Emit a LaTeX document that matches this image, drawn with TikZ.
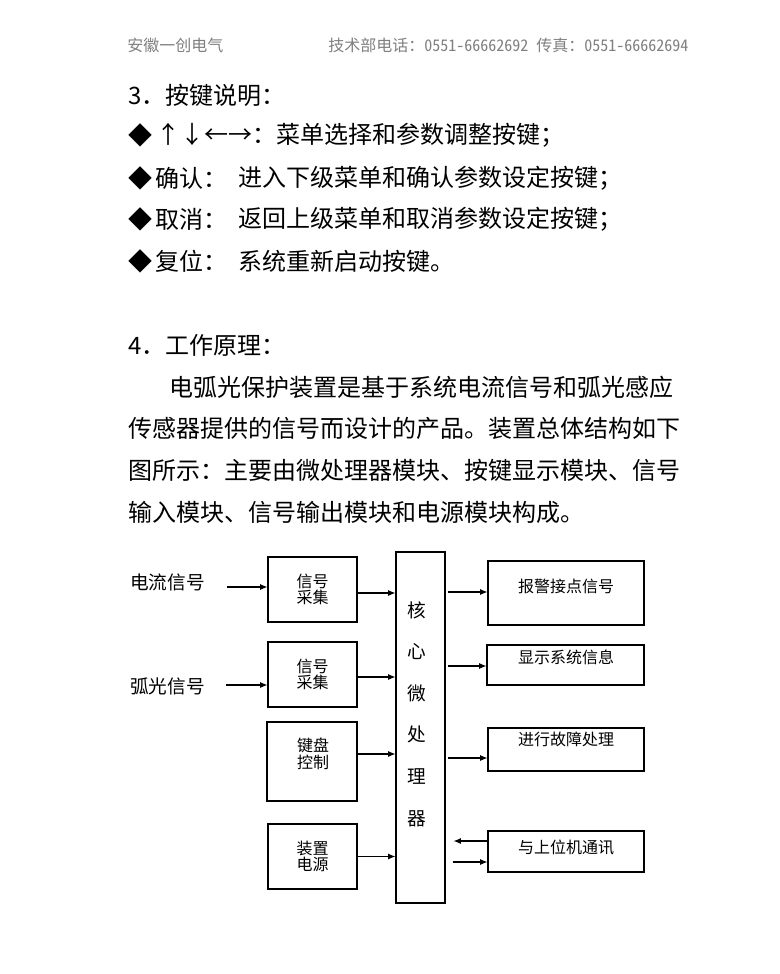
\documentclass[tikz,border=0pt]{standalone}
\usepackage{fontspec}
\setmainfont{Noto Sans CJK SC}
\newfontfamily\hdrfont[RawFeature=+hwid]{Noto Sans CJK SC}
\usepackage{tikz}
\usetikzlibrary{arrows.meta, calc, positioning}
\newcommand{\pxu}{0.75pt}
\tikzset{
>={Latex[length=5.5pt,width=4.5pt]}, % filled arrow heads
hdr/.style={anchor=west, inner sep=0pt, text=black!50, font=\hdrfont\fontsize{12}{12}\selectfont},
txt/.style={anchor=west, inner sep=0pt, font=\fontsize{18}{18}\selectfont},
side/.style={anchor=west, inner sep=0pt, font=\fontsize{14}{14}\selectfont},
blk/.style={draw, line width=0.8pt, inner sep=0pt, align=center, font=\fontsize{12}{12.5}\selectfont},
lbl/.style={inner sep=0pt, align=center, font=\fontsize{12}{12.5}\selectfont},
conn/.style={->, line width=0.8pt},
}
\begin{document}
\begin{tikzpicture}[x=0.75pt,y=-0.75pt]
  \fill[white] (0,0) rectangle (780,974);
  \useasboundingbox (0,0) rectangle (780,974);

  % page header
  \node[hdr] (hname) at (127,45) {安徽一创电气};
  \node[hdr] (htel) at (328,45) {技术部电话：0551-66662692 传真：0551-66662694};

  % section 3
  \node[txt] (h3) at (128,95) {3．按键说明：};
  \foreach \y/\nm in {135/a,178/b,219/c,261/d}
    \node[txt] (dia\nm) at (128,\y) {◆};
  \node[txt] (karr) at (156,135) {↑↓←→：菜单选择和参数调整按键；};
  \node[txt] (kok) at (155,178) {确认：};
  \node[txt] (koktx) at (238,178) {进入下级菜单和确认参数设定按键；};
  \node[txt] (kesc) at (155,219) {取消：};
  \node[txt] (kesctx) at (238,219) {返回上级菜单和取消参数设定按键；};
  \node[txt] (krst) at (155,261) {复位：};
  \node[txt] (krsttx) at (238,261) {系统重新启动按键。};

  % section 4
  \node[txt] (h4) at (128,345) {4．工作原理：};
  \node[txt] (p1) at (169,387) {电弧光保护装置是基于系统电流信号和弧光感应};
  \node[txt] (p2) at (128,428) {传感器提供的信号而设计的产品。装置总体结构如下};
  \node[txt] (p3) at (128,470) {图所示：主要由微处理器模块、按键显示模块、信号};
  \node[txt] (p4) at (128,512) {输入模块、信号输出模块和电源模块构成。};

  % block diagram
  \node[side] (cur) at (130,582) {电流信号};
  \node[side] (arc) at (130,686) {弧光信号};

  \node[blk, minimum width=89*\pxu, minimum height=65*\pxu] (sa) at (312.5,589.5) {信号\\采集};
  \node[blk, minimum width=89*\pxu, minimum height=65*\pxu] (sb) at (312.5,674.5) {信号\\采集};
  \node[blk, minimum width=90*\pxu, minimum height=79*\pxu] (kbd) at (312,761.5) {};
  \node[lbl] (kbdtx) at (313,754) {键盘\\控制};
  \node[blk, minimum width=89*\pxu, minimum height=65*\pxu] (pwr) at (312.5,856.5) {装置\\电源};

  \node[blk, minimum width=49*\pxu, minimum height=351*\pxu] (core) at (420.5,727.5) {};
  \node[lbl, font=\fontsize{14}{31.2}\selectfont] (coretx) at (417,714) {核\\心\\微\\处\\理\\器};

  \node[blk, minimum width=156*\pxu, minimum height=64*\pxu] (alm) at (566,593) {};
  \node[lbl] (almtx) at (566,586) {报警接点信号};
  \node[blk, minimum width=157*\pxu, minimum height=40*\pxu] (dsp) at (565.5,665) {};
  \node[lbl] (dsptx) at (566,657) {显示系统信息};
  \node[blk, minimum width=156*\pxu, minimum height=43*\pxu] (flt) at (566,749.5) {};
  \node[lbl] (flttx) at (566,739) {进行故障处理};
  \node[blk, minimum width=156*\pxu, minimum height=41*\pxu] (com) at (566,851.5) {};
  \node[lbl] (comtx) at (566,847) {与上位机通讯};

  % inputs
  \coordinate (ina) at ($(sa.west)+(-40,-2.5)$);
  \coordinate (inb) at ($(sb.west)+(-41,10.5)$);
  \draw[conn] (ina) -- (ina -| sa.west);
  \draw[conn] (inb) -- (inb -| sb.west);

  % into the core
  \draw[conn] ($(sa.east)+(0,3.5)$) coordinate (c1) -- (c1 -| core.west);
  \draw[conn] ($(sb.east)+(0,2.5)$) coordinate (c2) -- (c2 -| core.west);
  \draw[conn] ($(kbd.east)+(0,-7.5)$) coordinate (c3) -- (c3 -| core.west);
  \draw[conn] (pwr.east) -- (pwr.east -| core.west);

  % out of the core
  \draw[conn] ($(core.east |- alm.west)+(2,-1)$) -- ($(alm.west)+(0,-1)$);
  \draw[conn] ($(core.east |- dsp.west)+(2,1)$) -- ($(dsp.west)+(0,1)$);
  \draw[conn] ($(core.east |- flt.west)+(2,8.5)$) -- ($(flt.west)+(0,8.5)$);
  \draw[conn] ($(com.west)+(0,-10.5)$) coordinate (c4) -- ($(c4 -| core.east)+(8,0)$);
  \draw[conn] ($(core.east |- com.west)+(7,10.5)$) -- ($(com.west)+(0,10.5)$);
\end{tikzpicture}
\end{document}
